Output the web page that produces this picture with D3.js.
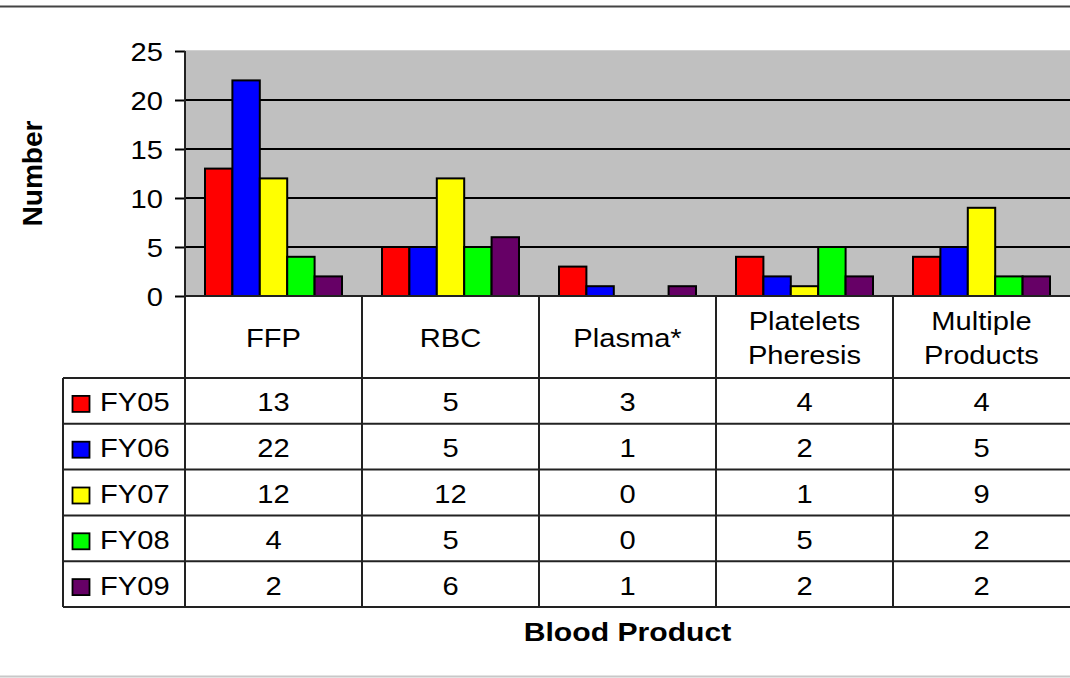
<!DOCTYPE html>
<html><head><meta charset="utf-8">
<script src="https://cdnjs.cloudflare.com/ajax/libs/d3/7.8.5/d3.min.js"></script>
<style>
html,body{margin:0;padding:0;background:#fff;}
svg text{font-family:"Liberation Sans",Arial,sans-serif;fill:#000;}
</style></head>
<body>
<script>
const categories = ["FFP", "RBC", "Plasma*", "Platelets\nPheresis", "Multiple\nProducts"];
const seriesNames = ["FY05", "FY06", "FY07", "FY08", "FY09"];
const seriesColors = ["#FF0000", "#0000FF", "#FFFF00", "#00FF00", "#660066"];
const fy05 = [13, 5, 3, 4, 4];
const fy06 = [22, 5, 1, 2, 5];
const fy07 = [12, 12, 0, 1, 9];
const fy08 = [4, 5, 0, 5, 2];
const fy09 = [2, 6, 1, 2, 2];
const yTicks = [0, 5, 10, 15, 20, 25];
const yTitle = "Number";
const xTitle = "Blood Product";

const seriesValues = [fy05, fy06, fy07, fy08, fy09];

const W = 1070, H = 678;
const svg = d3.select("body").append("svg").attr("width", W).attr("height", H);

const plotLeft = 185, plotRight = 1070, plotTop = 51, plotBottom = 296;
const headerBottom = 378, rowH = 45.8, legendLeft = 63;
const FS = 26, SX = 1.12;

const x = d3.scaleBand().domain(categories).range([plotLeft, plotRight]).paddingInner(0).paddingOuter(0);
const bw = x.bandwidth();
const xs = d3.scaleBand().domain(seriesNames).range([bw * 0.113, bw * 0.887]).paddingInner(0).paddingOuter(0);
const y = d3.scaleLinear().domain([0, 25]).range([plotBottom, plotTop]);

function txt(g, s, tx, ty, anchor, opts = {}) {
  return g.append("text")
    .attr("transform", `translate(${tx},${ty}) ${opts.rot ? "rotate(" + opts.rot + ")" : ""} scale(${opts.sx || SX},1)`)
    .attr("text-anchor", anchor)
    .style("font-size", (opts.fs || FS) + "px")
    .style("font-weight", opts.bold ? "bold" : "normal")
    .text(s);
}

// frame lines
svg.append("line").attr("x1", 0).attr("x2", W).attr("y1", 6.5).attr("y2", 6.5).attr("stroke", "#444").attr("stroke-width", 2);
svg.append("line").attr("x1", 0).attr("x2", W).attr("y1", 676.5).attr("y2", 676.5).attr("stroke", "#c8c8c8").attr("stroke-width", 2);

// plot area
svg.append("rect").attr("x", plotLeft).attr("y", plotTop - 1).attr("width", plotRight - plotLeft).attr("height", plotBottom - plotTop + 1).attr("fill", "#C0C0C0");
svg.append("line").attr("x1", plotLeft).attr("x2", plotRight).attr("y1", plotTop - 0.5).attr("y2", plotTop - 0.5).attr("stroke", "#d0d0d0").attr("stroke-width", 1);

// gridlines
svg.append("g").selectAll("line").data(yTicks.filter(t => t > 0 && t < 25)).join("line")
  .attr("x1", plotLeft).attr("x2", plotRight).attr("y1", d => y(d)).attr("y2", d => y(d))
  .attr("stroke", "#000").attr("stroke-width", 2);

// bars
const groups = svg.append("g").selectAll("g").data(categories).join("g")
  .attr("transform", d => `translate(${x(d)},0)`);
groups.selectAll("rect").data((d, i) => seriesNames.map((s, j) => ({ s, j, v: seriesValues[j][i] })).filter(e => e.v > 0)).join("rect")
  .attr("x", e => xs(e.s)).attr("width", xs.bandwidth())
  .attr("y", e => y(e.v)).attr("height", e => y(0) - y(e.v))
  .attr("fill", e => seriesColors[e.j]).attr("stroke", "#000").attr("stroke-width", 2);

// y axis
const yAxis = d3.axisLeft(y).tickValues(yTicks).tickSize(10).tickFormat("");
const ya = svg.append("g").attr("transform", `translate(${plotLeft},0)`).call(yAxis);
ya.select(".domain").remove();
ya.selectAll(".tick line").attr("stroke", "#000").attr("stroke-width", 2);
yTicks.forEach(t => txt(svg, String(t), 163, y(t) + 9.5, "end"));

// table lines
const tableBottom = headerBottom + rowH * seriesNames.length;
const tl = svg.append("g").attr("stroke", "#222").attr("stroke-width", 2);
tl.append("line").attr("x1", plotLeft).attr("x2", plotLeft).attr("y1", plotTop).attr("y2", tableBottom);
tl.append("line").attr("x1", plotLeft).attr("x2", plotRight).attr("y1", plotBottom).attr("y2", plotBottom);
categories.slice(1).forEach(c => tl.append("line").attr("x1", x(c)).attr("x2", x(c)).attr("y1", plotBottom).attr("y2", tableBottom));
tl.append("line").attr("x1", legendLeft).attr("x2", legendLeft).attr("y1", headerBottom).attr("y2", tableBottom);
for (let r = 0; r <= seriesNames.length; r++) {
  const yy = headerBottom + r * rowH;
  tl.append("line").attr("x1", legendLeft).attr("x2", plotRight).attr("y1", yy).attr("y2", yy);
}

// category headers
categories.forEach(c => {
  const cx = x(c) + bw / 2;
  const lines = c.split("\n");
  const cy = (plotBottom + headerBottom) / 2;
  lines.forEach((ln, k) => {
    const off = (k - (lines.length - 1) / 2) * 34;
    txt(svg, ln, cx, cy + off + 9.5, "middle");
  });
});

// rows
seriesNames.forEach((s, j) => {
  const rc = headerBottom + j * rowH + rowH / 2;
  svg.append("rect").attr("x", 72.5).attr("y", rc - 5).attr("width", 17).attr("height", 16)
    .attr("fill", seriesColors[j]).attr("stroke", "#000").attr("stroke-width", 1.8);
  txt(svg, s, 100, rc + 10.5, "start");
  categories.forEach((c, i) => {
    txt(svg, String(seriesValues[j][i]), x(c) + bw / 2, rc + 10.5, "middle");
  });
});

// titles
txt(svg, xTitle, (plotLeft + plotRight) / 2, 641, "middle", { bold: true, sx: 1.16 });
txt(svg, yTitle, 42, (plotTop + plotBottom) / 2, "middle", { bold: true, rot: -90, sx: 1.04, fs: 27 });
</script>
</body></html>
